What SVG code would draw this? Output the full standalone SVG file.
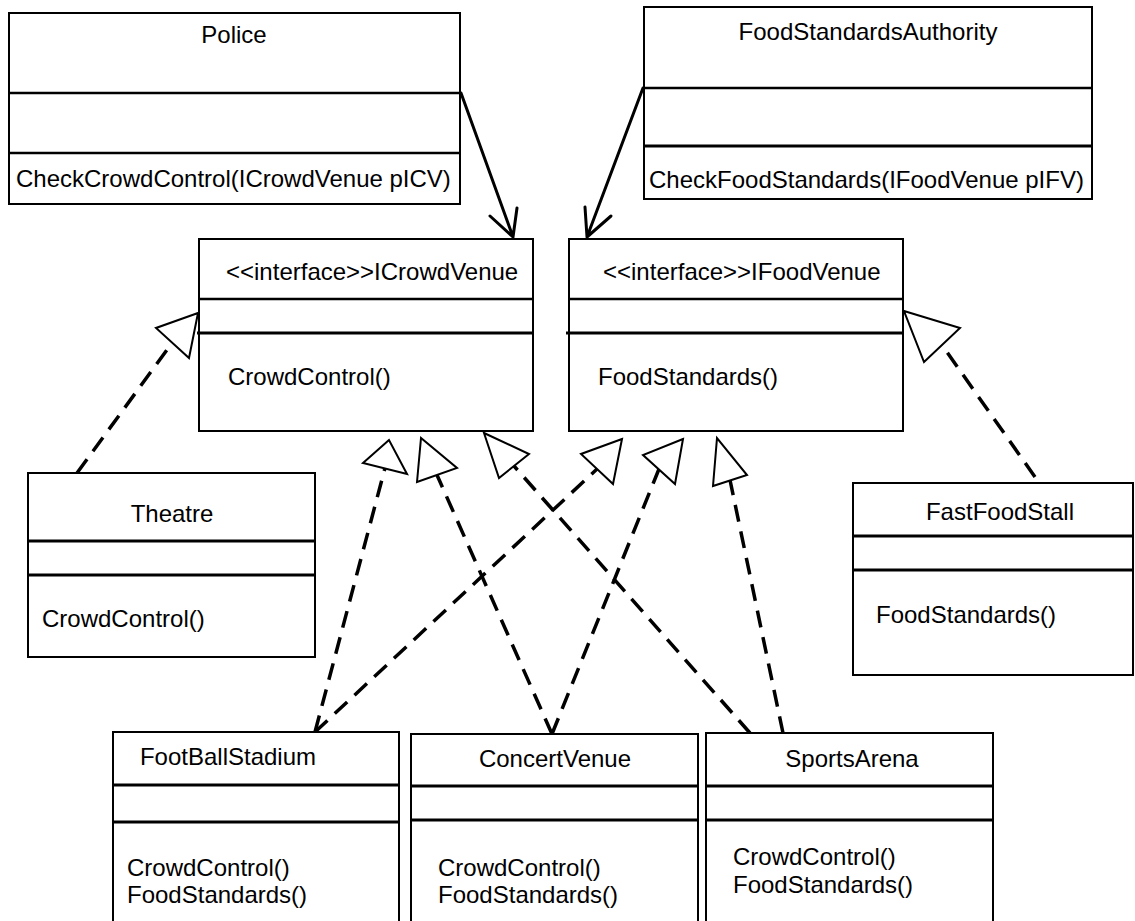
<svg xmlns="http://www.w3.org/2000/svg" width="1135" height="921" viewBox="0 0 1135 921">
<style>
.box{fill:#fff;stroke:#000;stroke-width:2}
.div{stroke:#000;stroke-width:2.5;fill:none}
.divt{stroke:#000;stroke-width:3;fill:none}
text{font-family:"Liberation Sans",Arial,sans-serif;font-size:24px;fill:#000}
.c{text-anchor:middle}
.dash{stroke:#000;stroke-width:3.5;stroke-dasharray:17 10;fill:none}
.tri{fill:#fff;stroke:#000;stroke-width:2;stroke-linejoin:miter}
.assoc{stroke:#000;stroke-width:3;fill:none;stroke-linecap:round;stroke-linejoin:round}
</style>
<rect width="1135" height="921" fill="#fff"/>
<g id="connectors">
<line class="dash" x1="77" y1="473" x2="172" y2="343"/>
<line class="dash" x1="1035" y1="477" x2="942" y2="345"/>
<line class="dash" x1="315" y1="732" x2="385" y2="468"/>
<line class="dash" x1="552" y1="734" x2="437" y2="475"/>
<line class="dash" x1="750" y1="733" x2="514" y2="466"/>
<line class="dash" x1="315" y1="732" x2="597" y2="469"/>
<line class="dash" x1="552" y1="734" x2="659" y2="469"/>
<line class="dash" x1="783" y1="733" x2="730" y2="480"/>
<polygon class="tri" points="198,313 156,328 189,358"/>
<polygon class="tri" points="904,311 960,328 924,362"/>
<polygon class="tri" points="389,440 363,463 407,474"/>
<polygon class="tri" points="421,438 417,482 457,468"/>
<polygon class="tri" points="484,433 499,478 529,454"/>
<polygon class="tri" points="622,439 581,454 613,484"/>
<polygon class="tri" points="683,439 643,455 675,484"/>
<polygon class="tri" points="717,438 713,486 747,475"/>
<path class="assoc" d="M461,93 L513,237 M490,216 L513,237 L517,208"/>
<path class="assoc" d="M643,88 L587,237 M585,207 L587,237 L611,216"/>
</g>
<g id="Police">
<rect class="box" x="9" y="13" width="451" height="191"/>
<line class="div" x1="9" y1="93" x2="460" y2="93"/>
<line class="div" x1="9" y1="153" x2="460" y2="153"/>
<text class="c" x="234" y="43">Police</text>
<text x="16" y="187">CheckCrowdControl(ICrowdVenue pICV)</text>
</g>
<g id="FoodStandardsAuthority">
<rect class="box" x="644" y="7" width="448" height="192"/>
<line class="div" x1="644" y1="88" x2="1092" y2="88"/>
<line class="divt" x1="644" y1="146" x2="1092" y2="146"/>
<text class="c" x="868" y="40">FoodStandardsAuthority</text>
<text x="649" y="188">CheckFoodStandards(IFoodVenue pIFV)</text>
</g>
<g id="ICrowdVenue">
<rect class="box" x="199" y="239" width="334" height="192"/>
<line class="div" x1="199" y1="299" x2="533" y2="299"/>
<line class="divt" x1="197" y1="333" x2="533" y2="333"/>
<text x="226" y="280">&lt;&lt;interface&gt;&gt;ICrowdVenue</text>
<text x="228" y="385">CrowdControl()</text>
</g>
<g id="IFoodVenue">
<rect class="box" x="569" y="239" width="334" height="192"/>
<line class="div" x1="569" y1="299" x2="903" y2="299"/>
<line class="divt" x1="566" y1="333" x2="903" y2="333"/>
<text x="603" y="280">&lt;&lt;interface&gt;&gt;IFoodVenue</text>
<text x="598" y="385">FoodStandards()</text>
</g>
<g id="Theatre">
<rect class="box" x="28" y="473" width="287" height="184"/>
<line class="divt" x1="28" y1="541" x2="315" y2="541"/>
<line class="divt" x1="28" y1="575" x2="315" y2="575"/>
<text class="c" x="172" y="522">Theatre</text>
<text x="42" y="627">CrowdControl()</text>
</g>
<g id="FastFoodStall">
<rect class="box" x="853" y="483" width="280" height="192"/>
<line class="divt" x1="853" y1="536" x2="1133" y2="536"/>
<line class="divt" x1="853" y1="570" x2="1133" y2="570"/>
<text class="c" x="1000" y="520">FastFoodStall</text>
<text x="876" y="623">FoodStandards()</text>
</g>
<g id="FootBallStadium">
<rect class="box" x="113" y="732" width="286" height="200"/>
<line class="divt" x1="113" y1="785" x2="399" y2="785"/>
<line class="divt" x1="113" y1="822" x2="399" y2="822"/>
<text class="c" x="228" y="765">FootBallStadium</text>
<text x="127" y="876">CrowdControl()</text>
<text x="127" y="903">FoodStandards()</text>
</g>
<g id="ConcertVenue">
<rect class="box" x="411" y="734" width="287" height="200"/>
<line class="divt" x1="411" y1="786" x2="698" y2="786"/>
<line class="divt" x1="411" y1="820" x2="698" y2="820"/>
<text class="c" x="555" y="767">ConcertVenue</text>
<text x="438" y="876">CrowdControl()</text>
<text x="438" y="903">FoodStandards()</text>
</g>
<g id="SportsArena">
<rect class="box" x="706" y="733" width="287" height="200"/>
<line class="divt" x1="706" y1="786" x2="993" y2="786"/>
<line class="divt" x1="706" y1="820" x2="993" y2="820"/>
<text class="c" x="852" y="767">SportsArena</text>
<text x="733" y="865">CrowdControl()</text>
<text x="733" y="893">FoodStandards()</text>
</g>
</svg>
